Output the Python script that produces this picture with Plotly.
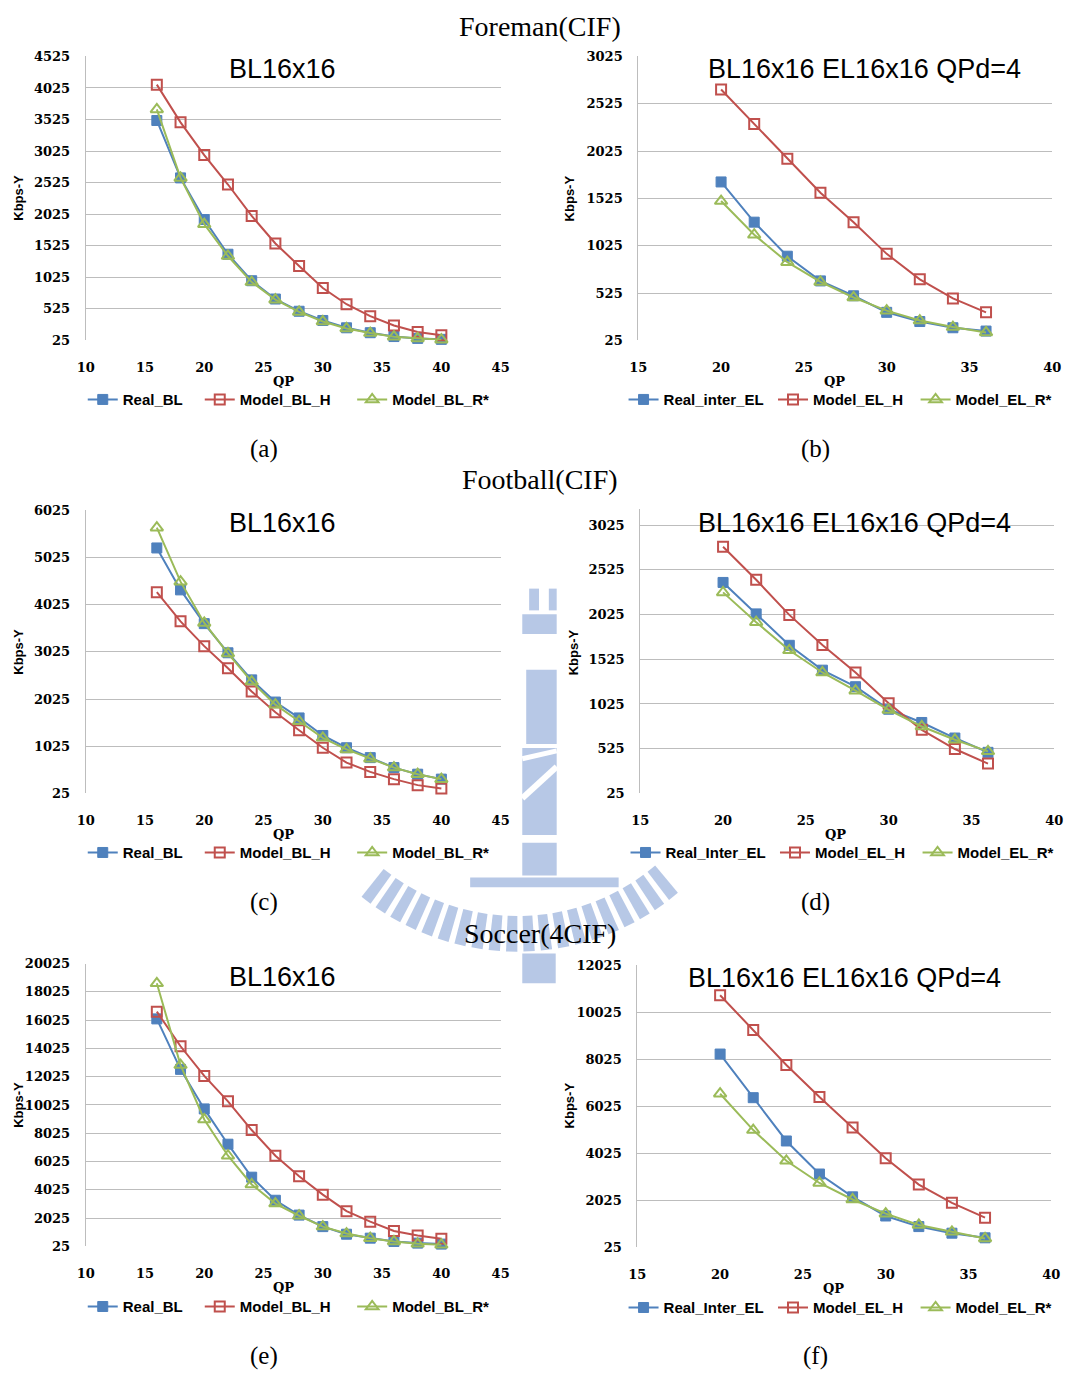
import math
import plotly.graph_objects as go

W, H = 1085, 1383
OFFSET = 8          # page places the figure 8px from the left edge
FIG_W = W - OFFSET  # so the figure is made narrower by that amount

# ---------------- data ----------------
qp_bl = [16, 18, 20, 22, 24, 26, 28, 30, 32, 34, 36, 38, 40]
qp_el = [20, 22, 24, 26, 28, 30, 32, 34, 36]

# (a) Foreman BL
a_real = [3510, 2600, 1940, 1390, 970, 680, 486, 340, 224, 146, 85, 56, 41]
a_model_h = [4078, 3481, 2962, 2495, 1997, 1561, 1205, 854, 597, 408, 261, 156, 104]
a_model_r = [3685, 2600, 1866, 1362, 948, 670, 476, 324, 214, 140, 83, 56, 35]
# (b) Foreman EL
b_real = [1699, 1274, 914, 653, 496, 321, 224, 158, 123]
b_model_h = [2676, 2310, 1943, 1584, 1274, 939, 670, 468, 321]
b_model_r = [1497, 1141, 851, 642, 478, 339, 234, 165, 109]
# (c) Football BL
c_real = [5230, 4341, 3625, 3007, 2432, 1962, 1625, 1253, 993, 783, 572, 432, 327]
c_model_h = [4292, 3674, 3148, 2678, 2186, 1744, 1365, 993, 678, 481, 327, 200, 130]
c_model_r = [5660, 4516, 3639, 2993, 2397, 1906, 1555, 1204, 958, 762, 572, 432, 327]
# (d) Football EL
d_real = [2384, 2032, 1681, 1403, 1218, 966, 818, 644, 484]
d_model_h = [2784, 2414, 2021, 1684, 1377, 1032, 736, 521, 358]
d_model_r = [2273, 1940, 1625, 1377, 1173, 958, 773, 625, 495]
# (e) Soccer BL
e_real = [16109, 12542, 9745, 7251, 4920, 3288, 2239, 1424, 887, 608, 375, 258, 188]
e_model_h = [16622, 14174, 12076, 10281, 8253, 6435, 4990, 3685, 2519, 1773, 1121, 794, 561]
e_model_r = [18626, 12845, 8999, 6435, 4407, 3055, 2193, 1424, 934, 608, 375, 211, 142]
# (f) Soccer EL
f_real = [8255, 6398, 4555, 3148, 2178, 1362, 911, 630, 433]
f_model_h = [10759, 9282, 7791, 6426, 5132, 3823, 2698, 1924, 1291]
f_model_r = [6567, 5019, 3711, 2768, 2065, 1460, 982, 686, 405]

names_bl = ["Real_BL", "Model_BL_H", "Model_BL_R*"]
names_el_b = ["Real_inter_EL", "Model_EL_H", "Model_EL_R*"]
names_el = ["Real_Inter_EL", "Model_EL_H", "Model_EL_R*"]

row_titles = ["Foreman(CIF)", "Football(CIF)", "Soccer(4CIF)"]
sub_labels = ["(a)", "(b)", "(c)", "(d)", "(e)", "(f)"]
title_bl = "BL16x16"
title_el = "BL16x16 EL16x16 QPd=4"

BLUE, RED, GREEN = "#4F81BD", "#C0504D", "#9BBB59"
GRID = "#BDBDBD"
WM = "#B7C8E6"   # faint watermark colour

def px(x):
    return (x - OFFSET) / FIG_W

def py(y):
    return 1 - y / H

LEFT_LEG = [88, 207, 362]
RIGHT_LEG = [638, 790, 935]

panels = [
    dict(x=(86, 508), y=(50, 337), xr=[10, 45], yr=[25, 4525], dt=500,
         qp=qp_bl, data=(a_real, a_model_h, a_model_r), names=names_bl,
         title=title_bl, tpos=(286, 63), legx=LEFT_LEG, legy=397, ylab=(18, 193), qpl=(287, 379), sub=(267, 447)),
    dict(x=(648, 1069), y=(50, 337), xr=[15, 40], yr=[25, 3025], dt=500,
         qp=qp_el, data=(b_real, b_model_h, b_model_r), names=names_el_b,
         title=title_el, tpos=(878, 63), legx=RIGHT_LEG, legy=397, ylab=(578, 193), qpl=(848, 379), sub=(828, 447)),
    dict(x=(86, 508), y=(509, 795), xr=[10, 45], yr=[25, 6025], dt=1000,
         qp=qp_bl, data=(c_real, c_model_h, c_model_r), names=names_bl,
         title=title_bl, tpos=(286, 522), legx=LEFT_LEG, legy=855, ylab=(18, 652), qpl=(287, 837), sub=(267, 905)),
    dict(x=(650, 1071), y=(508, 795), xr=[15, 40], yr=[25, 3200], dt=500,
         qp=qp_el, data=(d_real, d_model_h, d_model_r), names=names_el,
         title=title_el, tpos=(868, 522), legx=[640, 792, 937], legy=855, ylab=(583, 652), qpl=(849, 837), sub=(828, 905)),
    dict(x=(86, 508), y=(967, 1253), xr=[10, 45], yr=[25, 20025], dt=2000,
         qp=qp_bl, data=(e_real, e_model_h, e_model_r), names=names_bl,
         title=title_bl, tpos=(286, 981), legx=LEFT_LEG, legy=1314, ylab=(18, 1110), qpl=(287, 1295), sub=(267, 1364)),
    dict(x=(647, 1068), y=(969, 1254), xr=[15, 40], yr=[25, 12025], dt=2000,
         qp=qp_el, data=(f_real, f_model_h, f_model_r), names=names_el,
         title=title_el, tpos=(858, 982), legx=RIGHT_LEG, legy=1315, ylab=(578, 1110), qpl=(847, 1296), sub=(828, 1364)),
]

fig = go.Figure()
annotations = []
layout = {}

styles = [
    dict(color=BLUE, marker=dict(symbol="square", size=10, color=BLUE, line=dict(color=BLUE, width=1))),
    dict(color=RED, marker=dict(symbol="square-open", size=10, color=RED, line=dict(color=RED, width=2))),
    dict(color=GREEN, marker=dict(symbol="triangle-up-open", size=11, color=GREEN, line=dict(color=GREEN, width=2))),
]

tick_font = dict(family="DejaVu Serif", size=13, color="black", weight="bold")
leg_font = dict(family="Liberation Sans", size=15, color="black", weight="bold")

for i, p in enumerate(panels):
    n = i + 1
    xa = "xaxis" if n == 1 else f"xaxis{n}"
    ya = "yaxis" if n == 1 else f"yaxis{n}"
    xref = "x" if n == 1 else f"x{n}"
    yref = "y" if n == 1 else f"y{n}"

    for k in range(3):
        st = styles[k]
        li = 3 * i + k + 1
        legname = "legend" if li == 1 else f"legend{li}"
        fig.add_trace(go.Scatter(
            x=p["qp"], y=p["data"][k], name=p["names"][k], mode="lines+markers",
            line=dict(color=st["color"], width=2), marker=st["marker"],
            xaxis=xref, yaxis=yref, legend=legname, cliponaxis=False,
        ))
        layout[legname] = dict(
            orientation="h", x=px(p["legx"][k] - 5), xanchor="left",
            y=py(p["legy"]), yanchor="middle", bgcolor="rgba(0,0,0,0)",
            font=leg_font, itemwidth=30, borderwidth=0,
        )

    layout[xa] = dict(
        domain=[px(p["x"][0]), px(p["x"][1])], anchor=yref,
        range=p["xr"], tick0=0, dtick=5, showgrid=False, zeroline=False,
        showline=False, ticks="", tickfont=tick_font, ticklabelstandoff=18,
    )
    ticks = list(range(25, p["yr"][1] + 1, p["dt"]))
    layout[ya] = dict(
        domain=[py(p["y"][1]), py(p["y"][0])], anchor=xref,
        range=p["yr"], tickvals=ticks, ticktext=[str(t) for t in ticks],
        showgrid=True, gridcolor=GRID, gridwidth=1, zeroline=False,
        showline=True, linecolor=GRID, linewidth=1, ticks="",
        tickfont=tick_font, ticklabelstandoff=12,
    )
    annotations.append(dict(
        text=p["title"], x=px(p["tpos"][0]), y=py(p["tpos"][1]), xref="paper", yref="paper",
        showarrow=False, xanchor="center", yanchor="middle",
        font=dict(family="Liberation Sans", size=27, color="black"),
    ))
    annotations.append(dict(
        text="Kbps-Y", x=px(p["ylab"][0]), y=py(p["ylab"][1]), xref="paper", yref="paper",
        showarrow=False, xanchor="center", yanchor="middle", textangle=-90,
        font=dict(family="Liberation Sans", size=13, color="black", weight="bold"),
    ))
    annotations.append(dict(
        text="QP", x=px(p["qpl"][0]), y=py(p["qpl"][1]), xref="paper", yref="paper",
        showarrow=False, xanchor="center", yanchor="middle",
        font=dict(family="DejaVu Serif", size=13, color="black", weight="bold"),
    ))
    annotations.append(dict(
        text=sub_labels[i], x=px(p["sub"][0]), y=py(p["sub"][1]), xref="paper", yref="paper",
        showarrow=False, xanchor="center", yanchor="middle",
        font=dict(family="Liberation Serif", size=25, color="black"),
    ))

for t, yy in zip(row_titles, [20, 478, 937]):
    annotations.append(dict(
        text=t, x=px(548), y=py(yy), xref="paper", yref="paper",
        showarrow=False, xanchor="center", yanchor="middle",
        font=dict(family="Liberation Serif", size=28, color="black"),
    ))

# ---------------- faint background watermark (decoration) ----------------
shapes = []

def wm_rect(x0, x1, y0, y1, color=WM):
    shapes.append(dict(type="rect", xref="paper", yref="paper", layer="below",
                       x0=px(x0), x1=px(x1), y0=py(y1), y1=py(y0),
                       line=dict(width=0), fillcolor=color))

wm_rect(537, 547, 588, 610)
wm_rect(557, 565, 588, 610)
wm_rect(530, 565, 614, 634)
wm_rect(534, 565, 670, 745)
wm_rect(530, 565, 749, 837)
wm_rect(530, 565, 845, 878)
wm_rect(477, 628, 880, 890)
wm_rect(530, 564, 957, 987)
# white diagonal cut in the column
shapes.append(dict(type="line", xref="paper", yref="paper", layer="below",
                   x0=px(530), y0=py(800), x1=px(565), y1=py(768),
                   line=dict(color="white", width=6)))
shapes.append(dict(type="line", xref="paper", yref="paper", layer="below",
                   x0=px(530), y0=py(760), x1=px(565), y1=py(752),
                   line=dict(color="white", width=5)))

# striped ring
cx, cy, r_out, r_in = 525, 701, 254, 218
ang = 50.0
while ang < 130.0:
    a0, a1 = math.radians(ang), math.radians(ang + 2.6)
    pts = [
        (cx + r_out * math.cos(a0), cy + r_out * math.sin(a0)),
        (cx + r_out * math.cos(a1), cy + r_out * math.sin(a1)),
        (cx + r_in * math.cos(a1), cy + r_in * math.sin(a1)),
        (cx + r_in * math.cos(a0), cy + r_in * math.sin(a0)),
    ]
    path = "M " + " L ".join(f"{px(x):.5f},{py(y):.5f}" for x, y in pts) + " Z"
    shapes.append(dict(type="path", xref="paper", yref="paper", layer="below",
                       path=path, line=dict(width=0), fillcolor=WM))
    ang += 4.0

fig.update_layout(
    width=FIG_W, height=H, margin=dict(l=0, r=0, t=0, b=0),
    paper_bgcolor="white", plot_bgcolor="rgba(0,0,0,0)",
    showlegend=True, annotations=annotations, shapes=shapes, **layout,
)

fig.write_html("out.html")
